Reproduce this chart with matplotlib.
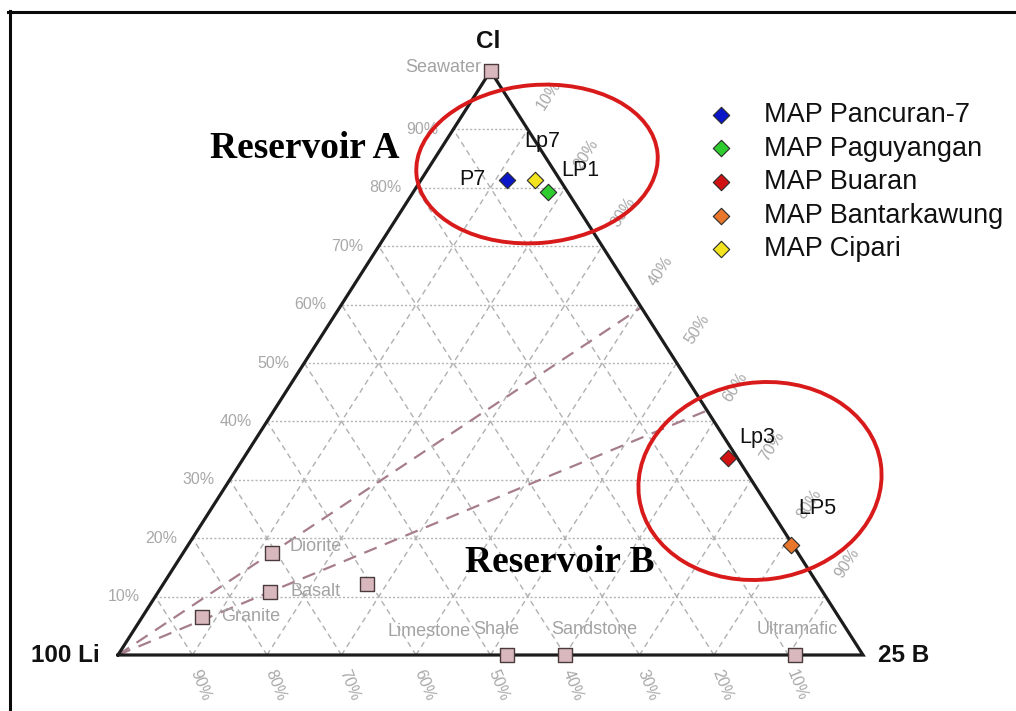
import numpy as np
import matplotlib.pyplot as plt
from matplotlib.patches import Ellipse
from matplotlib.lines import Line2D
from matplotlib.transforms import IdentityTransform, offset_copy

# ---------------- data (percent of Cl, Li/100, B/25) ----------------
samples = ["MAP Pancuran-7", "MAP Paguyangan", "MAP Buaran", "MAP Bantarkawung", "MAP Cipari"]
sample_tags = ["P7", "LP1", "Lp3", "LP5", "Lp7"]
sample_li = [7.1, 2.6, 1.3, 0.3, 3.4]
sample_cl = [81.3, 79.3, 33.7, 18.8, 81.3]
sample_b = [11.6, 18.1, 65.0, 80.9, 15.3]
sample_colors = ["#0a16c8", "#2fcc2f", "#d01212", "#e8772c", "#f4e420"]

rocks = ["Seawater", "Diorite", "Basalt", "", "Granite", "Shale", "Sandstone", "Ultramafic"]
rock_li = [0.0, 70.6, 74.2, 60.5, 85.5, 47.8, 40.0, 9.1]
rock_cl = [100.0, 17.5, 10.8, 12.2, 6.5, 0.0, 0.0, 0.0]
rock_b = [0.0, 11.9, 15.0, 27.3, 8.0, 52.2, 60.0, 90.9]

grid_pct = [10, 20, 30, 40, 50, 60, 70, 80, 90]

W, H = 1016, 711
fig = plt.figure(figsize=(W / 100, H / 100), dpi=100)
fig.patch.set_facecolor("white")

# triangle extents on the canvas (pixels)
LEFT, RIGHT, BASE, APEX = 118, 863, 655, 71
ax = fig.add_axes([LEFT / W, 1 - BASE / H, (RIGHT - LEFT) / W, (BASE - APEX) / H])
ax.set_xlim(0, 1)
ax.set_ylim(0, 1)
ax.axis("off")

SANS = ["Liberation Sans", "DejaVu Sans"]
SERIF = ["Liberation Serif", "DejaVu Serif"]


def tern(li, cl, b):
    li, cl, b = (np.asarray(v, dtype=float) for v in (li, cl, b))
    s = li + cl + b
    cl = cl / s
    b = b / s
    return b + cl / 2.0, cl


def off(dx_px, dy_px):
    """Offset transform in pixels (dy positive = up)."""
    return offset_copy(ax.transData, fig=fig, x=dx_px * 0.72, y=dy_px * 0.72, units="points")


# ---------------- grid ----------------
gcol = "#b0b0b0"
for p in grid_pct:
    f = p / 100
    # constant Cl (horizontal)
    x, y = tern([1 - f, 0], [f, f], [0, 1 - f])
    ax.plot(x, y, color="#b4b4b4", lw=1.0, ls=(0, (1.5, 1.5)), zorder=1)
    # constant Li (parallel to the Cl-B side)
    x, y = tern([f, f], [0, 1 - f], [1 - f, 0])
    ax.plot(x, y, color=gcol, lw=1.0, ls=(0, (4, 3)), zorder=1)
    # constant B (parallel to the Li-Cl side)
    x, y = tern([1 - f, 0], [0, 1 - f], [f, f])
    ax.plot(x, y, color=gcol, lw=1.0, ls=(0, (4, 3)), zorder=1)

# ---------------- tick labels ----------------
tick_kw = dict(color="#a8a8a8", fontsize=11.5, family=SANS)
for p in grid_pct:
    f = p / 100
    x, y = tern(1 - f, f, 0)
    ax.text(x, y, f"{p}%", ha="right", va="center", transform=off(-15, 0), **tick_kw)
    x, y = tern(0, 1 - f, f)
    ax.text(x, y, f"{p}%", ha="center", va="center", rotation=57,
            transform=off(21, 34), **tick_kw)
    x, y = tern(f, 0, 1 - f)
    ax.text(x, y, f"{p}%", ha="center", va="center", rotation=-68,
            transform=off(8, -30), **tick_kw)

# ---------------- mixing lines from the Li corner ----------------
for name in ["Diorite", "Basalt"]:
    i = rocks.index(name)
    ratio = rock_cl[i] / (rock_cl[i] + rock_b[i])
    x, y = tern([100, 0], [0, ratio], [0, 1 - ratio])
    ax.plot(x, y, color="#a67d8b", lw=1.6, ls=(0, (6, 4)), zorder=2)

# ---------------- triangle frame ----------------
tx, ty = tern([100, 0, 0, 100], [0, 100, 0, 0], [0, 0, 100, 0])
ax.plot(tx, ty, color="#1c1c1c", lw=2.3, zorder=3, solid_joinstyle="miter", clip_on=False)

# ---------------- reference rocks ----------------
rx, ry = tern(rock_li, rock_cl, rock_b)
ax.scatter(rx, ry, marker="s", s=110, facecolor="#d8b8bc", edgecolor="#4a3a3d",
           linewidth=1.0, zorder=4, clip_on=False)

rock_label_pos = {
    "Seawater": (-9, 4, "right"),
    "Diorite": (18, 6, "left"),
    "Basalt": (21, 0, "left"),
    "Granite": (19, 1, "left"),
    "Shale": (-11, 26, "center"),
    "Sandstone": (29, 26, "center"),
    "Ultramafic": (2, 26, "center"),
}
rk_kw = dict(color="#a3a3a3", fontsize=13, family=SANS, va="center", zorder=4)
for i, name in enumerate(rocks):
    if name in rock_label_pos:
        dx, dy, ha = rock_label_pos[name]
        ax.text(rx[i], ry[i], name, ha=ha, transform=off(dx, dy), **rk_kw)
lx, ly = tern(58.0, 0, 42.0)
ax.text(lx, ly, "Limestone", ha="center", transform=off(-2, 23), **rk_kw)

# ---------------- samples ----------------
sx, sy = tern(sample_li, sample_cl, sample_b)
handles = []
for i in range(len(samples)):
    h = ax.scatter(sx[i], sy[i], marker="D", s=70, color=sample_colors[i],
                   edgecolor="#2a2a2a", linewidth=0.8, zorder=5, label=samples[i])
    handles.append(h)

tag_pos = {"P7": (-35, 1), "Lp7": (7, 39), "LP1": (32, 21), "Lp3": (29, 21), "LP5": (27, 37)}
for i, tag in enumerate(sample_tags):
    dx, dy = tag_pos[tag]
    ax.text(sx[i], sy[i], tag, ha="center", va="center", fontsize=15.5,
            family=SANS, color="#111111", transform=off(dx, dy), zorder=6)

# ---------------- corner labels ----------------
cx, cy = tern([0, 100, 0], [100, 0, 0], [0, 0, 100])
ax.text(cx[0], cy[0], "Cl", ha="center", va="center", fontsize=17.5, fontweight="bold",
        family=SANS, color="#111111", transform=off(-2, 30))
ax.text(cx[1], cy[1], "100 Li", ha="right", va="center", fontsize=17.5, fontweight="bold",
        family=SANS, color="#111111", transform=off(-18, -1))
ax.text(cx[2], cy[2], "25 B", ha="left", va="center", fontsize=17.5, fontweight="bold",
        family=SANS, color="#111111", transform=off(15, -1))

# ---------------- reservoir groupings ----------------
for (xc, yc, w, h, ang) in [(537, 164, 242, 158, 5), (760, 481, 244, 197, 8)]:
    fig.add_artist(Ellipse((xc, H - yc), w, h, angle=ang, fill=False,
                           edgecolor="#d91a1a", linewidth=2.8, transform=IdentityTransform(),
                           zorder=7))

fig.text(305 / W, 1 - 148 / H, "Reservoir A", ha="center", va="center", fontsize=27,
         fontweight="bold", family=SERIF, color="#000000")
fig.text(560 / W, 1 - 563 / H, "Reservoir B", ha="center", va="center", fontsize=27,
         fontweight="bold", family=SERIF, color="#000000")

# ---------------- legend ----------------
leg = ax.legend(handles=handles, loc="upper left",
                bbox_to_anchor=(707 / W, 1 - 102 / H), bbox_transform=fig.transFigure,
                frameon=False, borderpad=0, borderaxespad=0, handlelength=1.0,
                handletextpad=1.1, labelspacing=0.28,
                prop={"family": SANS, "size": 19.5})
for t in leg.get_texts():
    t.set_color("#111111")

# ---------------- page border (top and left) ----------------
fig.add_artist(Line2D([8 / W, 1], [1 - 11.5 / H] * 2, color="#0a0a0a", lw=2.2,
                      transform=fig.transFigure))
fig.add_artist(Line2D([9.5 / W] * 2, [0, 1 - 10.5 / H], color="#0a0a0a", lw=2.2,
                      transform=fig.transFigure))

fig.savefig("out.png", dpi=100, facecolor="white")
